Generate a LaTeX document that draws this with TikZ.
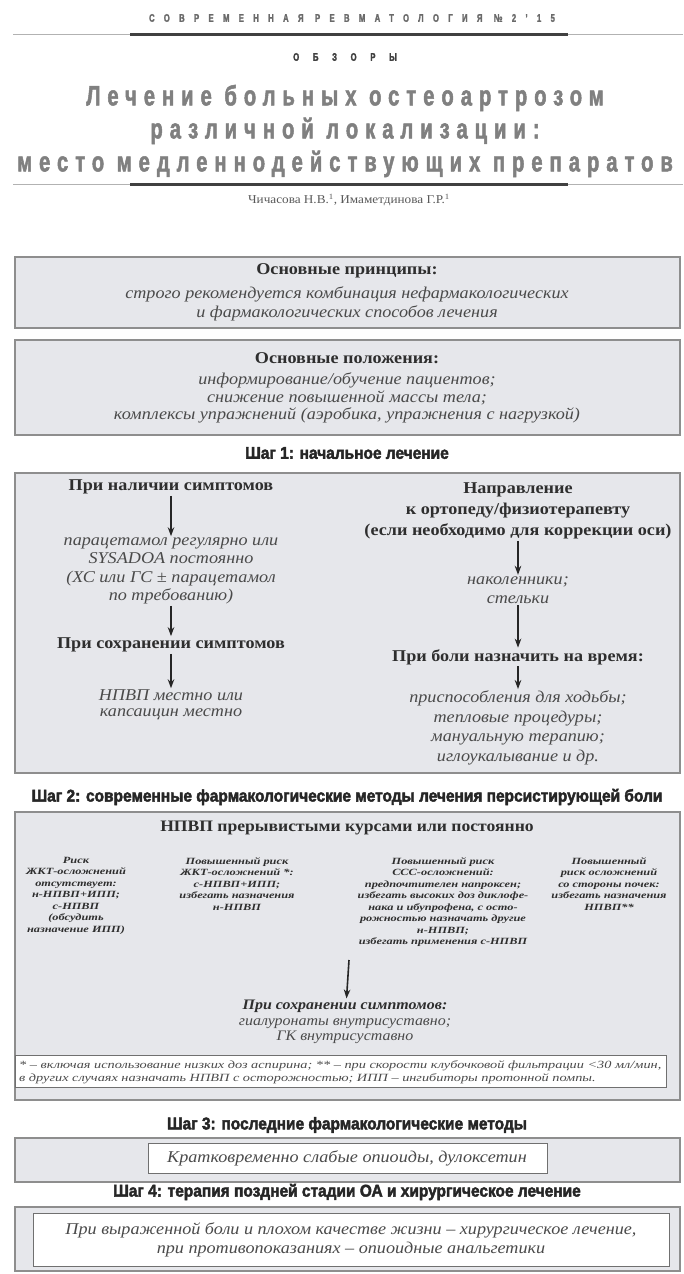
\documentclass[tikz,border=0pt]{standalone}
\usepackage{fontspec}
\setmainfont{Liberation Serif}[FakeStretch=1.1]
\newfontfamily\widefont{Liberation Serif}[FakeStretch=1.3]
\newfontfamily\stepfont{Liberation Sans Bold}[FakeStretch=0.91,FakeBold=2.5]
\newfontfamily\titlefont{Liberation Sans Bold}[FakeStretch=0.72,LetterSpace=25,FakeBold=1.8]
\newfontfamily\hdrfont{Liberation Sans Bold}[FakeStretch=0.7,LetterSpace=85,FakeBold=2]
\newfontfamily\rubfont{Liberation Sans Bold}[FakeStretch=0.7,LetterSpace=125,FakeBold=2]
\usetikzlibrary{arrows.meta}
\definecolor{boxfill}{HTML}{E6E7EB}
\definecolor{boxline}{HTML}{8E8E8E}
\definecolor{inline}{HTML}{707070}
\definecolor{titlegray}{HTML}{808080}
\definecolor{hdrgray}{HTML}{6A6A6A}
\definecolor{bolddark}{HTML}{2E2E2E}
\definecolor{itgray}{HTML}{4A4A4A}

\begin{document}
\begin{tikzpicture}[x=1pt, y=-1pt, >={Stealth[length=9pt,width=6.5pt]}]
	\tikzstyle{panel}=[draw=boxline, fill=boxfill, line width=1.6pt]
	\tikzstyle{inbox}=[draw=inline, fill=white, line width=0.9pt]
	\tikzstyle{btext}=[text=bolddark, font=\fontsize{16.5}{19.5}\selectfont\bfseries, align=center, inner sep=1.5pt]
	\tikzstyle{itext}=[text=itgray, font=\fontsize{16.5}{19.5}\selectfont\itshape, align=center, inner sep=1.5pt]
	\tikzstyle{steptitle}=[text=black!85, font=\stepfont\fontsize{17}{20}\selectfont]
	\tikzstyle{colnote}=[text=bolddark, font=\widefont\fontsize{9.5}{11.5}\selectfont\bfseries\itshape, align=center, anchor=north, inner sep=0pt]
	\tikzstyle{arr}=[->, line width=1.6pt, black!85]
	\useasboundingbox[fill=white] (0,0) rectangle (683,1274);

	% header
	\node[text=hdrgray, font=\hdrfont\fontsize{11}{13}\selectfont] (journal) at (352,18) {СОВРЕМЕННАЯ РЕВМАТОЛОГИЯ №2’15};
	\draw[black!30, line width=0.8pt] (13,34) -- (683,34);
	\draw[black!75, line width=3pt] (130,34) -- (568,34);
	\node[text=black!75, font=\rubfont\fontsize{11}{13}\selectfont] (rubric) at (345,57) {ОБЗОРЫ};
	\node[text=titlegray, font=\titlefont\fontsize{28}{33}\selectfont, align=center] (title) at (345,131)
		{Лечение больных остеоартрозом\\различной локализации:\\место медленнодействующих препаратов};
	\draw[black!30, line width=0.8pt] (13,184) -- (683,184);
	\draw[black!75, line width=3pt] (130,184) -- (568,184);
	\node[text=black!65, font=\fontsize{12}{14}\selectfont] (authors) at (349,200) {Чичасова Н.В.\textsuperscript{1}, Имаметдинова Г.Р.\textsuperscript{1}};

	% basic principles
	\draw[panel] (15,257) rectangle (680,328);
	\node[btext] (princ) at (347,271) {Основные принципы:};
	\node[itext] (princtext) at (347,304) {строго рекомендуется комбинация нефармакологических\\и фармакологических способов лечения};
	\draw[panel] (15,340) rectangle (680,435);
	\node[btext] (basics) at (347,358) {Основные положения:};
	\node[itext, font=\fontsize{16.5}{17.5}\selectfont\itshape] (basictext) at (347,398) {информирование/обучение пациентов;\\снижение повышенной массы тела;\\комплексы упражнений (аэробика, упражнения с нагрузкой)};

	% step 1
	\node[steptitle] (step1) at (347,453) {Шаг 1: начальное лечение};
	\draw[panel] (15,473) rectangle (680,773);
	\node[btext] (sym) at (171,487) {При наличии симптомов};
	\node[itext, font=\fontsize{16.5}{18.3}\selectfont\itshape] (para) at (171,571) {парацетамол регулярно или\\SYSADOA постоянно\\(ХС или ГС ± парацетамол\\по требованию)};
	\node[btext] (persist) at (171,645) {При сохранении симптомов};
	\node[itext, font=\fontsize{16.5}{16}\selectfont\itshape] (nsaid) at (171,705) {НПВП местно или\\капсаицин местно};
	\node[btext, font=\fontsize{16.5}{21}\selectfont\bfseries] (ortho) at (518,511) {Направление\\к ортопеду/физиотерапевту\\(если необходимо для коррекции оси)};
	\node[itext, font=\fontsize{16.5}{19}\selectfont\itshape] (pads) at (518,590) {наколенники;\\стельки};
	\node[btext] (pain) at (518,657) {При боли назначить на время:};
	\node[itext, font=\fontsize{16.5}{19.7}\selectfont\itshape] (aids) at (518,728) {приспособления для ходьбы;\\тепловые процедуры;\\мануальную терапию;\\иглоукалывание и др.};
	\draw[arr] (sym) -- (para);
	\draw[arr] (para) -- (persist);
	\draw[arr] (persist) -- (nsaid);
	\draw[arr] (ortho) -- (pads);
	\draw[arr] (pads) -- (pain);
	\draw[arr] (pain) -- (aids);

	% step 2
	\node[steptitle] (step2) at (347,797) {Шаг 2: современные фармакологические методы лечения персистирующей боли};
	\draw[panel] (15,812) rectangle (680,1100);
	\node[btext, font=\fontsize{16}{19}\selectfont\bfseries] (courses) at (347,828) {НПВП прерывистыми курсами или постоянно};
	\node[colnote] (gilow) at (76,857) {Риск\\ЖКТ-осложнений\\отсутствует:\\н-НПВП+ИПП;\\с-НПВП\\(обсудить\\назначение ИПП)};
	\node[colnote] (gihigh) at (237,857) {Повышенный риск\\ЖКТ-осложнений *:\\с-НПВП+ИПП;\\избегать назначения\\н-НПВП};
	\node[colnote] (cvhigh) at (443,857) {Повышенный риск\\ССС-осложнений:\\предпочтителен напроксен;\\избегать высоких доз диклофе-\\нака и ибупрофена, с осто-\\рожностью назначать другие\\н-НПВП;\\избегать применения с-НПВП};
	\node[colnote] (renal) at (609,857) {Повышенный\\риск осложнений\\со стороны почек:\\избегать назначения\\НПВП**};
	\coordinate (split) at (349,960);
	\node[itext, font=\fontsize{14.5}{15.5}\selectfont\itshape] (persist2) at (345,1022)
		{{\bfseries\color{bolddark}При сохранении симптомов:}\\гиалуронаты внутрисуставно;\\ГК внутрисуставно};
	\draw[arr] (split) -- (persist2);
	\draw[inbox] (15,1055) rectangle (666,1087);
	\node[text=itgray, font=\widefont\fontsize{11}{12.5}\selectfont\itshape, align=left, anchor=west, inner sep=0pt] (notes) at (19,1072)
		{* – включая использование низких доз аспирина; ** – при скорости клубочковой фильтрации <30 мл/мин,\\в других случаях назначать НПВП с осторожностью; ИПП – ингибиторы протонной помпы.};

	% step 3
	\node[steptitle] (step3) at (347,1125) {Шаг 3: последние фармакологические методы};
	\draw[panel] (15,1138) rectangle (680,1182);
	\draw[inbox] (148,1143) rectangle (547,1173);
	\node[itext] (opioid) at (347,1158) {Кратковременно слабые опиоиды, дулоксетин};

	% step 4
	\node[steptitle] (step4) at (347,1192) {Шаг 4: терапия поздней стадии ОА и хирургическое лечение};
	\draw[panel] (15,1207) rectangle (680,1271);
	\draw[inbox] (33,1213) rectangle (669,1266);
	\node[itext] (surgery) at (351,1240) {При выраженной боли и плохом качестве жизни – хирургическое лечение,\\при противопоказаниях – опиоидные анальгетики};
\end{tikzpicture}
\end{document}
